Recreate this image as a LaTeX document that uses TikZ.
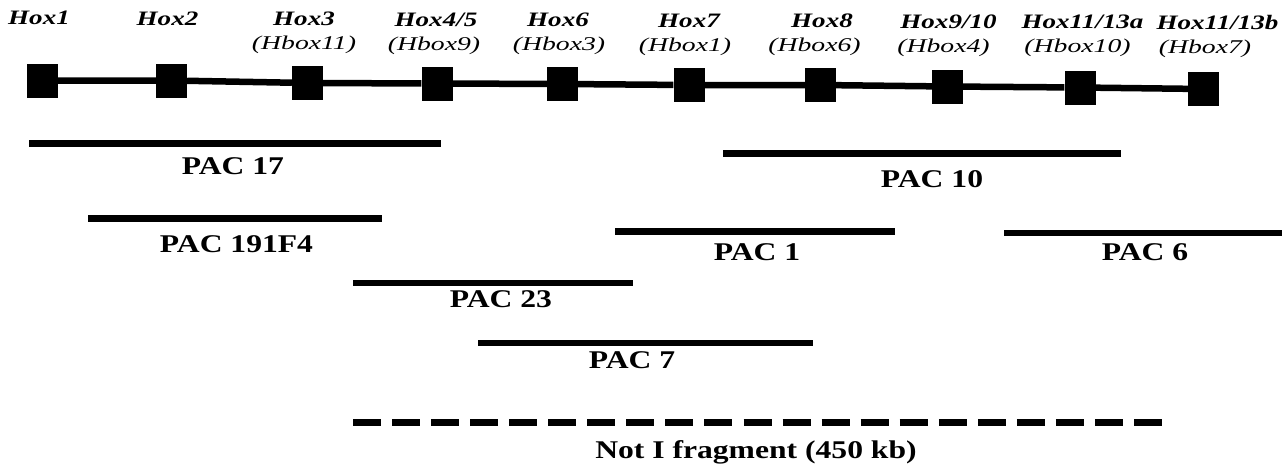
\documentclass[tikz,border=0pt]{standalone}
\usepackage{fontspec}
\setmainfont{Liberation Serif}
\newfontfamily\hoxfam{Liberation Serif}[FakeStretch=1.32]
\newfontfamily\hboxfam{Liberation Serif}[FakeStretch=1.42]
\newfontfamily\pacfam{Liberation Serif}[FakeStretch=1.24]
\begin{document}
\begin{tikzpicture}[x=1pt,y=-1pt,
  gene/.style={fill=black,draw=none,inner sep=0pt,minimum width=31pt,minimum height=34pt},
  backbone/.style={line width=6.5pt,black},
  clone/.style={line width=6.5pt,black,line cap=butt},
  fragment/.style={line width=7pt,black,line cap=butt,dash pattern=on 28pt off 11.05pt},
  hoxlab/.style={anchor=base,inner sep=0pt,font=\hoxfam\bfseries\itshape\fontsize{20.5}{20.5}\selectfont},
  hboxlab/.style={anchor=base,inner sep=0pt,font=\hboxfam\itshape\fontsize{19.5}{19.5}\selectfont},
  paclab/.style={anchor=base,inner sep=0pt,font=\pacfam\bfseries\fontsize{25.5}{25.5}\selectfont}]
\useasboundingbox (0,0) rectangle (1284,466);

% gene boxes along the cluster
\node[gene] (g1)  at (42.5,80.5) {};
\node[gene] (g2)  at (171.5,80.5) {};
\node[gene] (g3)  at (307.5,83) {};
\node[gene] (g4)  at (437,83.5) {};
\node[gene] (g5)  at (562.5,84) {};
\node[gene] (g6)  at (689,85) {};
\node[gene] (g7)  at (820.5,85) {};
\node[gene] (g8)  at (947.5,86.5) {};
\node[gene] (g9)  at (1080,87.5) {};
\node[gene] (g10) at (1203.5,89) {};
\draw[backbone] (g1) -- (g2) -- (g3) -- (g4) -- (g5) -- (g6) -- (g7) -- (g8) -- (g9) -- (g10);

% gene names
\node[hoxlab] (h1)  at (39,24.5)     {Hox1};
\node[hoxlab] (h2)  at (167.5,25)    {Hox2};
\node[hoxlab] (h3)  at (304,25.5)    {Hox3};
\node[hoxlab] (h4)  at (436,26)      {Hox4/5};
\node[hoxlab] (h5)  at (558,26.5)    {Hox6};
\node[hoxlab] (h6)  at (689,27)      {Hox7};
\node[hoxlab] (h7)  at (822,27.5)    {Hox8};
\node[hoxlab] (h8)  at (948.5,28)    {Hox9/10};
\node[hoxlab] (h9)  at (1082.5,28.5) {Hox11/13a};
\node[hoxlab] (h10) at (1217.5,29)   {Hox11/13b};

\node[hboxlab] (b3)  at (304,49)      {(Hbox11)};
\node[hboxlab] (b4)  at (434,50)      {(Hbox9)};
\node[hboxlab] (b5)  at (559,50.5)    {(Hbox3)};
\node[hboxlab] (b6)  at (685,51)      {(Hbox1)};
\node[hboxlab] (b7)  at (814.5,51.5)  {(Hbox6)};
\node[hboxlab] (b8)  at (943.5,52)    {(Hbox4)};
\node[hboxlab] (b9)  at (1077.5,52.5) {(Hbox10)};
\node[hboxlab] (b10) at (1205,53)     {(Hbox7)};

% PAC clones
\coordinate (p17a) at (29,143.5);   \coordinate (p17b) at (441,143.5);
\coordinate (p10a) at (723,153.5);  \coordinate (p10b) at (1121,153.5);
\coordinate (p191a) at (88,218.5);  \coordinate (p191b) at (382,218.5);
\coordinate (p1a) at (615,231.5);   \coordinate (p1b) at (895,231.5);
\coordinate (p6a) at (1004,233);    \coordinate (p6b) at (1282,233);
\coordinate (p23a) at (353,283);    \coordinate (p23b) at (633,283);
\coordinate (p7a) at (478,343);     \coordinate (p7b) at (813,343);
\draw[clone] (p17a) -- (p17b);
\draw[clone] (p10a) -- (p10b);
\draw[clone] (p191a) -- (p191b);
\draw[clone] (p1a) -- (p1b);
\draw[clone] (p6a) -- (p6b);
\draw[clone] (p23a) -- (p23b);
\draw[clone] (p7a) -- (p7b);

\node[paclab] (l17)  at (233,174)   {PAC 17};
\node[paclab] (l10)  at (932,187)   {PAC 10};
\node[paclab] (l191) at (236.5,252) {PAC 191F4};
\node[paclab] (l1)   at (757,260)   {PAC 1};
\node[paclab] (l6)   at (1145,260)  {PAC 6};
\node[paclab] (l23)  at (501,307)   {PAC 23};
\node[paclab] (l7)   at (632,368)   {PAC 7};

% NotI fragment
\coordinate (nfa) at (353,422.5);
\coordinate (nfb) at (1162,422.5);
\draw[fragment] (nfa) -- (nfb);
\node[paclab] (lnf) at (756,458) {Not I fragment (450 kb)};
\end{tikzpicture}
\end{document}
